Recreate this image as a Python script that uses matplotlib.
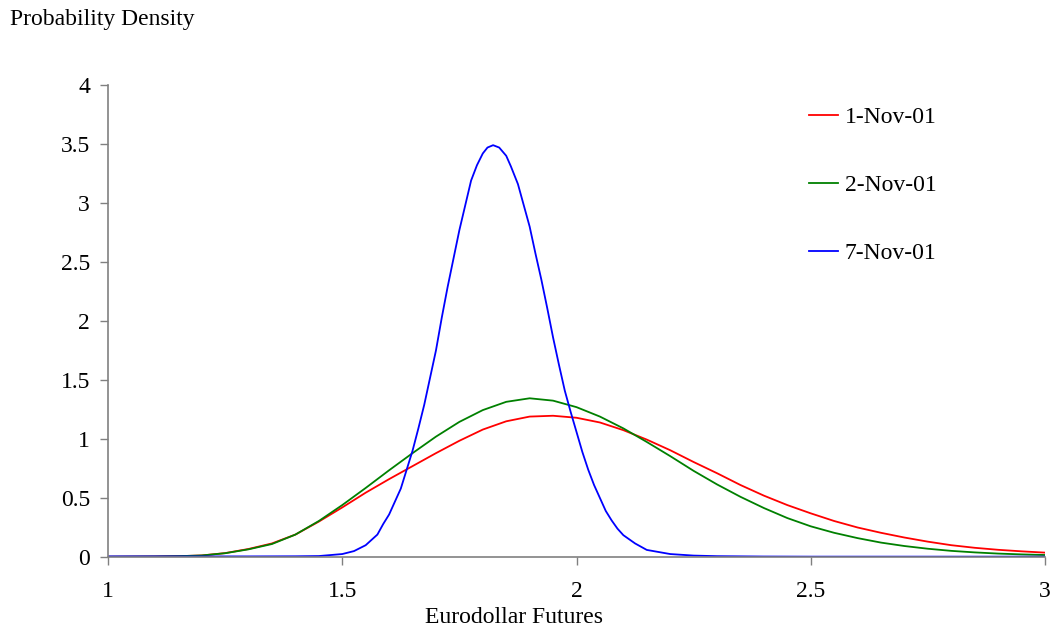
import matplotlib.pyplot as plt

# values
x_rg = [1.0, 1.05, 1.1, 1.15, 1.2, 1.25, 1.3, 1.35, 1.4, 1.45, 1.5, 1.55, 1.6, 1.65,
        1.7, 1.75, 1.8, 1.85, 1.9, 1.95, 2.0, 2.05, 2.1, 2.15, 2.2, 2.25, 2.3, 2.35,
        2.4, 2.45, 2.5, 2.55, 2.6, 2.65, 2.7, 2.75, 2.8, 2.85, 2.9, 2.95, 3.0]
nov01 = [0.002, 0.003, 0.004, 0.007, 0.013, 0.033, 0.068, 0.115, 0.19, 0.30, 0.42,
         0.545, 0.66, 0.77, 0.88, 0.985, 1.08, 1.15, 1.19, 1.197, 1.18, 1.14, 1.075,
         0.995, 0.905, 0.805, 0.71, 0.61, 0.52, 0.44, 0.37, 0.305, 0.25, 0.205, 0.165,
         0.13, 0.10, 0.078, 0.061, 0.048, 0.037]
nov02 = [0.002, 0.003, 0.004, 0.007, 0.013, 0.032, 0.065, 0.11, 0.19, 0.305, 0.44,
         0.585, 0.735, 0.88, 1.02, 1.145, 1.245, 1.315, 1.345, 1.325, 1.27, 1.19, 1.09,
         0.975, 0.855, 0.73, 0.615, 0.51, 0.415, 0.33, 0.26, 0.205, 0.16, 0.122, 0.093,
         0.07, 0.052, 0.039, 0.029, 0.022, 0.017]

x_b = [1.0, 1.1, 1.2, 1.3, 1.4, 1.45, 1.5, 1.525, 1.55, 1.575, 1.5875, 1.6, 1.6125,
       1.625, 1.6375, 1.65, 1.6625, 1.675, 1.6875, 1.7, 1.7125, 1.725, 1.7375, 1.75,
       1.7625, 1.775, 1.7875, 1.8, 1.81, 1.822, 1.835, 1.85, 1.86, 1.875, 1.8875, 1.9,
       1.9125, 1.925, 1.9375, 1.95, 1.9625, 1.975, 1.9875, 2.0, 2.0125, 2.025, 2.0375,
       2.05, 2.0625, 2.075, 2.0875, 2.1, 2.125, 2.15, 2.2, 2.25, 2.3, 2.4, 2.5, 2.75, 3.0]
nov07 = [0.005, 0.005, 0.005, 0.005, 0.006, 0.008, 0.025, 0.05, 0.10, 0.19, 0.28, 0.36,
         0.47, 0.58, 0.74, 0.90, 1.09, 1.29, 1.52, 1.75, 2.03, 2.29, 2.53, 2.77,
         2.98, 3.19, 3.32, 3.42, 3.47, 3.49, 3.47, 3.40, 3.31, 3.16, 2.98, 2.80,
         2.57, 2.35, 2.11, 1.86, 1.63, 1.41, 1.23, 1.06, 0.89, 0.74, 0.61,
         0.50, 0.39, 0.31, 0.24, 0.185, 0.115, 0.06, 0.025, 0.012, 0.007, 0.004,
         0.003, 0.003, 0.003]

plt.rcParams['font.family'] = ['Liberation Serif', 'DejaVu Serif']

fig = plt.figure(figsize=(10.51, 6.36), dpi=100)
ax = fig.add_axes([108 / 1051, 1 - 557 / 636, (1045 - 108) / 1051, (557 - 85) / 636])

ax.plot(x_rg, nov01, color='#ff0000', linewidth=1.3, label='1-Nov-01')
ax.plot(x_rg, nov02, color='#008000', linewidth=1.3, label='2-Nov-01')
ax.plot(x_b, nov07, color='#0000ff', linewidth=1.3, label='7-Nov-01')

ax.set_xlim(1, 3)
ax.set_ylim(0, 4)
ax.set_xticks([1, 1.5, 2, 2.5, 3])
ax.set_xticklabels(['1', '1.5', '2', '2.5', '3'])
ax.set_yticks([0, 0.5, 1, 1.5, 2, 2.5, 3, 3.5, 4])
ax.set_yticklabels(['0', '0.5', '1', '1.5', '2', '2.5', '3', '3.5', '4'])

for s in ['top', 'right']:
    ax.spines[s].set_visible(False)
for s in ['left', 'bottom']:
    ax.spines[s].set_color('#808080')
    ax.spines[s].set_linewidth(1.2)
ax.tick_params(axis='x', colors='#808080', labelcolor='black', length=6, width=1, pad=11, labelsize=17)
ax.tick_params(axis='y', colors='#808080', labelcolor='black', length=6, width=1, pad=7, labelsize=17)

fig.text(10 / 1051, 1 - 19 / 636, 'Probability Density', fontsize=17, ha='left', va='center')
fig.text(514 / 1051, 1 - 623 / 636, 'Eurodollar Futures', fontsize=17, ha='center', va='baseline')

ax.legend(loc='upper left', bbox_to_anchor=((800 - 108) / 937, 1 - (97 - 85) / 472),
          frameon=False, fontsize=17, handlelength=1.2, handletextpad=0.3,
          labelspacing=1.97, borderaxespad=0)

fig.savefig('out.png', dpi=100)
